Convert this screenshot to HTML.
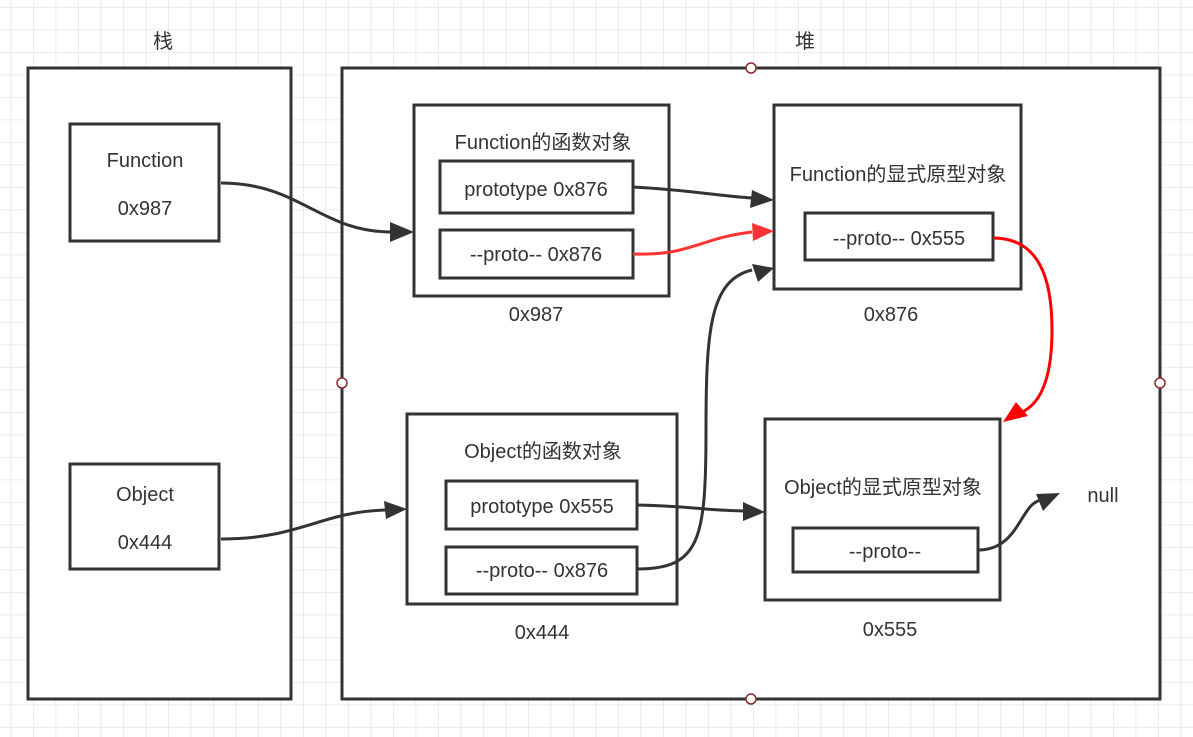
<!DOCTYPE html>
<html><head><meta charset="utf-8"><style>
html,body{margin:0;padding:0;background:#fff}
svg{display:block}
text{font-family:"Liberation Sans","Noto Sans CJK SC",sans-serif;font-size:20px;fill:#333;text-anchor:middle}
</style></head><body>
<svg width="1193" height="737" viewBox="0 0 1193 737" xmlns="http://www.w3.org/2000/svg">
<defs>
<pattern id="g" width="22.5" height="22.5" patternUnits="userSpaceOnUse" x="10.5" y="7">
<path d="M0 0H22.5M0 0V22.5" stroke="#e6e6e6" stroke-width="1.5" fill="none"/>
</pattern>
</defs>
<rect width="1193" height="737" fill="url(#g)"/>
<g stroke="#333" stroke-width="3" fill="#fff">
<rect x="28" y="68" width="263" height="631"/>
<rect x="342" y="68" width="818" height="631"/>
<rect x="70" y="124" width="149" height="117"/>
<rect x="70" y="464" width="149" height="105"/>
<rect x="414" y="105" width="255" height="191"/>
<rect x="440" y="161" width="193" height="52"/>
<rect x="440" y="230" width="193" height="48"/>
<rect x="774" y="105" width="247" height="184"/>
<rect x="805" y="213" width="188" height="47"/>
<rect x="407" y="414" width="270" height="190"/>
<rect x="446" y="481" width="191" height="48"/>
<rect x="446" y="547" width="191" height="47"/>
<rect x="765" y="419" width="235" height="181"/>
<rect x="793" y="528" width="185" height="44"/>
</g>
<g fill="#fff" stroke="#8b2a2a" stroke-width="1.5">
<circle cx="751" cy="68" r="5"/><circle cx="342" cy="383" r="5"/><circle cx="1160" cy="383" r="5"/><circle cx="751" cy="699" r="5"/>
</g>
<g fill="none" stroke-width="3">
<path d="M221 183C300 183 320 232 392 232" stroke="#333"/>
<path d="M633 187C690 190 710 195 752 198" stroke="#333"/>
<path d="M633 254C690 256 700 238 752 232" stroke="#ff3333"/>
<path d="M637 569C700 569 706 540 706 430C706 330 710 280 752 270" stroke="#333"/>
<path d="M993 238C1040 238 1052 280 1052 330C1052 380 1040 405 1020 413" stroke="#ff0000"/>
<path d="M221 539C300 539 320 512 385 510" stroke="#333"/>
<path d="M637 505C690 506 700 510 744 511" stroke="#333"/>
<path d="M978 550C1020 550 1020 502 1042 500" stroke="#333"/>
</g>
<g fill="#333">
<path d="M414 232L390 222L390 242Z"/>
<path d="M774 200L752 190L750 208Z"/>
<path d="M774 268L752 264L758 282Z"/>
<path d="M765 512L743 502L743 521Z"/>
<path d="M1060 493L1036 494L1043 511Z"/>
<path d="M407 509L384 501L386 519Z"/>
</g>
<path d="M774 231L752 223L753 241Z" fill="#ff3333"/>
<path d="M1003 422L1016 402L1028 416Z" fill="#ff0000"/>
<text x="163" y="48">栈</text>
<text x="805" y="48">堆</text>
<text x="145" y="167">Function</text>
<text x="145" y="215">0x987</text>
<text x="145" y="501">Object</text>
<text x="145" y="549">0x444</text>
<text x="543" y="149">Function的函数对象</text>
<text x="536" y="196">prototype 0x876</text>
<text x="536" y="261">--proto-- 0x876</text>
<text x="536" y="321">0x987</text>
<text x="898" y="181">Function的显式原型对象</text>
<text x="899" y="245">--proto-- 0x555</text>
<text x="891" y="321">0x876</text>
<text x="543" y="458">Object的函数对象</text>
<text x="542" y="513">prototype 0x555</text>
<text x="542" y="577">--proto-- 0x876</text>
<text x="542" y="639">0x444</text>
<text x="883" y="494">Object的显式原型对象</text>
<text x="885" y="558">--proto--</text>
<text x="890" y="636">0x555</text>
<text x="1103" y="502">null</text>
</svg>
</body></html>
